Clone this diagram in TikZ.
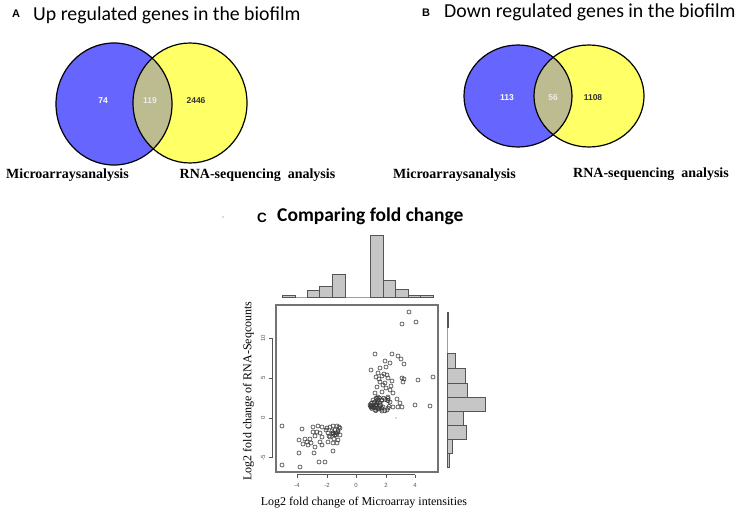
\documentclass[tikz,border=0pt]{standalone}
\usepackage{fontspec}
\newfontfamily\titlefont{Carlito}
\newfontfamily\arialfont{Liberation Sans}
\newfontfamily\timesfont{Liberation Serif}
\definecolor{vblue}{HTML}{6666FF}
\definecolor{vyellow}{HTML}{FFFF66}
\definecolor{vinter}{HTML}{BDBB90}
\definecolor{histfill}{HTML}{C6C6C6}
\definecolor{histline}{HTML}{555555}
\definecolor{axisgray}{HTML}{555555}
\definecolor{ptcol}{HTML}{3A3A3A}
\tikzset{
  venn/.style={draw=black, line width=1.2pt},
  paneltitle/.style={inner sep=0pt, font=\titlefont\fontsize{19.8}{22}\selectfont},
  panelletter/.style={inner sep=0pt, font=\arialfont\bfseries\fontsize{11}{13}\selectfont},
  vennnum/.style={inner sep=0pt, font=\arialfont\bfseries\fontsize{8.5}{10}\selectfont},
  setlabel/.style={inner sep=0pt, font=\timesfont\bfseries\fontsize{14}{16}\selectfont},
  axlabel/.style={inner sep=0pt, font=\timesfont\fontsize{12}{14}\selectfont},
  ticklab/.style={inner sep=0pt, text=axisgray, font=\arialfont\fontsize{6}{7}\selectfont},
  bar/.style={fill=histfill, draw=histline, line width=0.6pt},
  pt/.style={draw=ptcol, line width=0.6pt},
  axisline/.style={draw=axisgray, line width=0.6pt},
}
\begin{document}
\begin{tikzpicture}[x=1pt,y=-1pt]
\useasboundingbox (0,0) rectangle (744,516);
\fill[white] (0,0) rectangle (744,516);

% ---------------- Panel A ----------------
\node[panelletter, anchor=base] (letA) at (16,17.5) {A};
\node[paneltitle, anchor=base west] (titA) at (33,20.5) {Up regulated genes in the biofilm};
\fill[vblue] (114,104) ellipse[x radius=58, y radius=61];
\fill[vyellow] (190,103) ellipse[x radius=57, y radius=60];
\begin{scope}
  \clip (114,104) ellipse[x radius=58, y radius=61];
  \fill[vinter] (190,103) ellipse[x radius=57, y radius=60];
\end{scope}
\draw[venn] (114,104) ellipse[x radius=58, y radius=61];
\draw[venn] (190,103) ellipse[x radius=57, y radius=60];
\node[vennnum, text=white] (nA1) at (103,101) {74};
\node[vennnum, text=white!92!black] (nA2) at (150,101) {119};
\node[vennnum, text=black!80] (nA3) at (196,101) {2446};
\node[setlabel] (sA1) at (67.5,175) {Microarraysanalysis};
\node[setlabel] (sA2) at (257.5,175) {RNA-sequencing\ \ analysis};

% ---------------- Panel B ----------------
\node[panelletter, anchor=base] (letB) at (426,16.9) {B};
\node[paneltitle, anchor=base west] (titB) at (444,17.5) {Down regulated genes in the biofilm};
\fill[vblue] (518,96) ellipse[x radius=54, y radius=51];
\fill[vyellow] (589,96) ellipse[x radius=55, y radius=51];
\begin{scope}
  \clip (518,96) ellipse[x radius=54, y radius=51];
  \fill[vinter] (589,96) ellipse[x radius=55, y radius=51];
\end{scope}
\draw[venn] (518,96) ellipse[x radius=54, y radius=51];
\draw[venn] (589,96) ellipse[x radius=55, y radius=51];
\node[vennnum, text=white] (nB1) at (507,98) {113};
\node[vennnum, text=white!92!black] (nB2) at (553,98) {56};
\node[vennnum, text=black!80] (nB3) at (593,98) {1108};
\node[setlabel] (sB1) at (454.5,175) {Microarraysanalysis};
\node[setlabel] (sB2) at (651,174) {RNA-sequencing\ \ analysis};

% ---------------- Panel C ----------------
\fill[blue!70] (223,217) circle[radius=0.7];
\node[panelletter, anchor=base, font=\arialfont\bfseries\fontsize{13.5}{15}\selectfont] (letC) at (262,222) {C};
\node[paneltitle, anchor=base west, font=\titlefont\bfseries\fontsize{19.5}{22}\selectfont] (titC) at (277,221) {Comparing fold change};

% top histogram
\draw[draw=histfill!80!black, line width=0.6pt] (282,297) -- (433,297);
\foreach \xa/\xb/\yt in {282/295/295, 307/319/290, 319/332/286, 332/345/274, 370/383/235, 383/395/280, 395/408/289, 408/420/295.5, 420/433/295.5}
  \filldraw[bar] (\xa,297) rectangle (\xb,\yt);

% right histogram
\draw[draw=histfill!80!black, line width=0.6pt] (447,312) -- (447,467);
\foreach \ya/\yb/\xr in {312/327/448.5, 353/368/455, 368/383/465, 383/397/467, 397/411/485, 411/425/463, 425/439/466, 439/453/452, 453/467/449}
  \filldraw[bar] (447,\ya) rectangle (\xr,\yb);

% plot box
\draw[draw=black!55, line width=1.3pt] (276,305) rectangle (438,472);

% axes
\draw[axisline] (297,474.5) -- (415,474.5);
\foreach \xx/\lab in {297/-4, 327/-2, 356/0, 386/2, 415/4} {
  \draw[axisline] (\xx,474.5) -- (\xx,478);
  \node[ticklab] at (\xx,485.5) {\lab};
}
\draw[axisline] (272.5,338) -- (272.5,457.5);
\foreach \yy/\lab in {338/10, 378/5, 418/0, 457.5/-5} {
  \draw[axisline] (272.5,\yy) -- (269,\yy);
  \node[ticklab, rotate=90] at (263,\yy) {\lab};
}
\node[axlabel] (xlab) at (364,503) {Log2 fold change of Microarray intensities};
\node[axlabel, rotate=90] (ylab) at (248.5,391) {Log2 fold change of RNA-Seqcounts};

% scatter points
\foreach \px/\py in {409/312, 416/322, 402/324,
  375/354, 392/354, 398/356, 401/359, 390/363, 404/364, 371/370, 380/368, 386/367,
  378/373, 384/374, 376/377, 382/376, 387/375, 388/378, 392/381, 402/378, 404/379,
  403/382, 418/380, 433/377, 380/382, 383/385, 377/387, 386/388, 390/390, 393/393,
  382/392, 375/393, 378/397, 388/397, 397/399, 400/403, 373/400, 372/403, 376/405,
  380/403, 383/407, 387/410, 375/410, 372/408, 393/407, 398/407, 402/407, 415/405,
  430/406, 390/402, 378/400, 382/411, 377/408, 385/361, 379/379, 385/383, 391/386,
  282/426, 302/429, 313/427, 318/426, 322/427, 327/428, 330/427, 333/426, 337/426,
  339/427, 332/431, 335/430, 338/432, 340/435, 336/435, 333/433, 328/433, 330/437,
  334/439, 338/440, 328/442, 333/443, 337/443, 322/437, 320/433, 315/436, 317/432,
  313/432, 311/443, 307/442, 305/439, 299/440, 303/444, 308/445, 315/447, 322/445,
  320/442, 299/453, 314/453, 333/451, 282/465, 300/467, 319/462, 325/462, 310/439}
  \draw[pt] (\px,\py) circle[radius=2];
\pgfmathsetseed{4242}
\foreach \i in {1,...,38} {
  \pgfmathsetmacro\rx{370+20*rnd}
  \pgfmathsetmacro\ry{398+13*rnd}
  \draw[pt] (\rx,\ry) circle[radius=2];
}
\foreach \i in {1,...,8} {
  \pgfmathsetmacro\rx{326+14*rnd}
  \pgfmathsetmacro\ry{426+12*rnd}
  \draw[pt] (\rx,\ry) circle[radius=2];
}
\fill[blue!70] (396,418) circle[radius=0.6];
\end{tikzpicture}
\end{document}
